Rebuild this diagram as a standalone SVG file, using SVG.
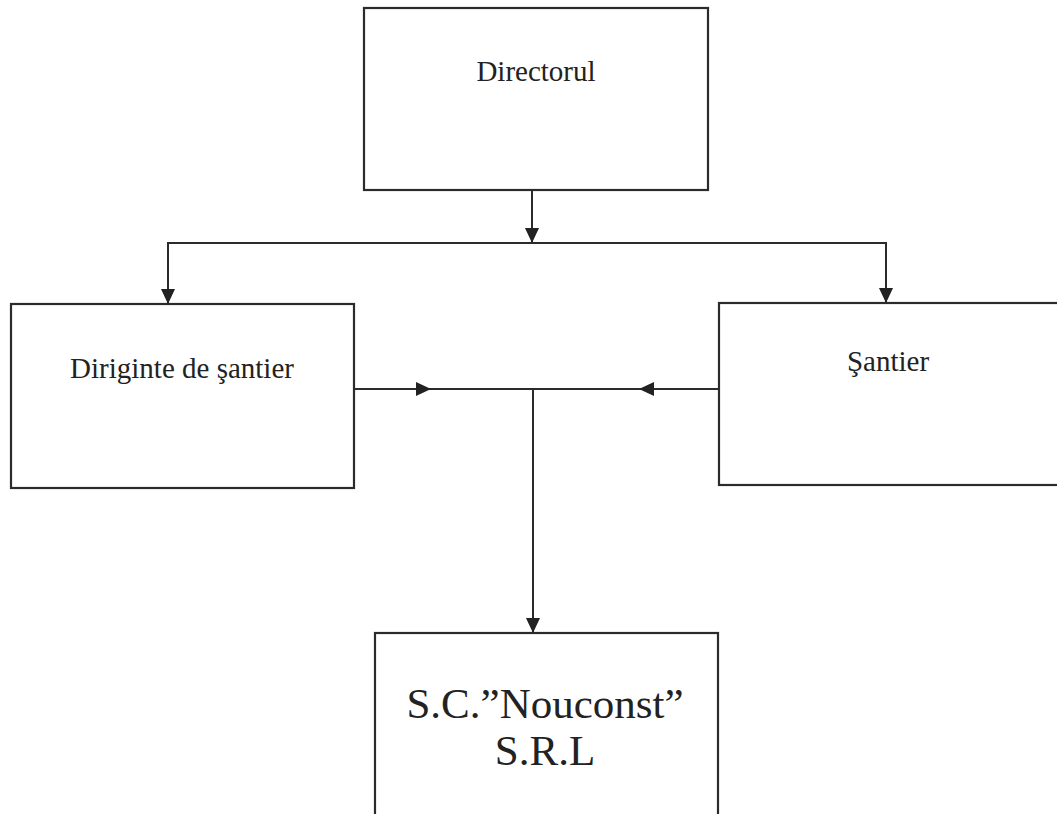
<svg xmlns="http://www.w3.org/2000/svg" width="1057" height="814" viewBox="0 0 1057 814">
<style>
.box{fill:#fff;stroke:#2b2b2b;stroke-width:2.2}
.ln{fill:none;stroke:#2b2b2b;stroke-width:2}
.t{font-family:"Liberation Serif","Times New Roman",serif;fill:#222;text-anchor:middle}
</style>
<defs>
<marker id="ah" markerUnits="userSpaceOnUse" markerWidth="16" markerHeight="14" refX="15" refY="7" orient="auto">
<path d="M0,0 L15,7 L0,14 Z" fill="#222"/>
</marker>
</defs>
<rect width="1057" height="814" fill="#fff"/>
<g id="directorul">
<rect class="box" x="364" y="8" width="344" height="182"/>
<text class="t" x="536" y="81" font-size="29">Directorul</text>
</g>
<g id="diriginte">
<rect class="box" x="11" y="304" width="343" height="184"/>
<text class="t" x="182" y="378" font-size="29">Diriginte de şantier</text>
</g>
<g id="santier">
<rect class="box" x="719" y="303" width="350" height="182"/>
<text class="t" x="888" y="371" font-size="29">Şantier</text>
</g>
<g id="nouconst">
<rect class="box" x="375" y="633" width="343" height="200"/>
<text class="t" x="545" y="718" font-size="43">S.C.”Nouconst”</text>
<text class="t" x="545" y="765" font-size="43">S.R.L</text>
</g>
<g id="connectors">
<line class="ln" x1="532" y1="190" x2="532" y2="243" marker-end="url(#ah)"/>
<line class="ln" x1="167" y1="243" x2="887" y2="243"/>
<line class="ln" x1="168" y1="243" x2="168" y2="304" marker-end="url(#ah)"/>
<line class="ln" x1="886" y1="243" x2="886" y2="303" marker-end="url(#ah)"/>
<line class="ln" x1="354" y1="389" x2="431" y2="389" marker-end="url(#ah)"/>
<line class="ln" x1="431" y1="389" x2="639" y2="389"/>
<line class="ln" x1="719" y1="389" x2="639" y2="389" marker-end="url(#ah)"/>
<line class="ln" x1="533" y1="389" x2="533" y2="633" marker-end="url(#ah)"/>
</g>
</svg>
